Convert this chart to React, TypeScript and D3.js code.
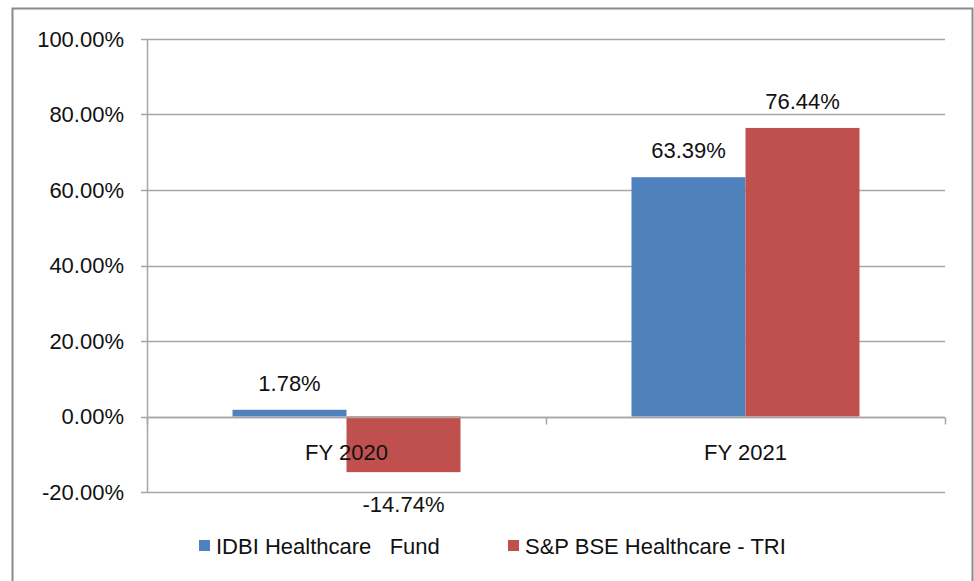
import { useEffect, useRef } from 'react'
import * as d3 from 'd3'

const categories = ['FY 2020', 'FY 2021']
const seriesNames = ['IDBI Healthcare   Fund', 'S&P BSE Healthcare - TRI']
const fundValues = [1.78, 63.39]
const indexValues = [-14.74, 76.44]
const yTicks = [-20, 0, 20, 40, 60, 80, 100]
const colors = ['#4F81BD', '#C0504D']

const App = () => {
  const svgRef = useRef<SVGSVGElement>(null)
  const width = 974
  const height = 581
  const margin = { top: 39, right: 29, bottom: 90, left: 147 }
  const font = "'Liberation Sans', Arial, sans-serif"
  const fs = '22px'

  useEffect(() => {
    const svg = d3.select(svgRef.current)
    svg.selectAll('*').remove()

    svg.append('rect')
      .attr('x', 12.5)
      .attr('y', 8.5)
      .attr('width', 960)
      .attr('height', 590)
      .attr('fill', 'white')
      .attr('stroke', '#8a8a8a')
      .attr('stroke-width', 2)

    const x0 = d3.scaleBand()
      .domain(categories)
      .range([margin.left, width - margin.right])
      .paddingInner(0)
      .paddingOuter(0)

    const x1 = d3.scaleBand()
      .domain(seriesNames)
      .range([0, x0.bandwidth()])
      .paddingInner(0)
      .paddingOuter(0.75)

    const y = d3.scaleLinear()
      .domain([-20, 100])
      .range([height - margin.bottom + 1, margin.top])

    // gridlines
    svg.append('g')
      .selectAll('line')
      .data(yTicks)
      .join('line')
      .attr('x1', margin.left - 6)
      .attr('x2', width - margin.right)
      .attr('y1', d => Math.round(y(d)) + 0.5)
      .attr('y2', d => Math.round(y(d)) + 0.5)
      .attr('stroke', '#a6a6a6')
      .attr('stroke-width', 1.5)

    // y axis line
    svg.append('line')
      .attr('x1', margin.left + 0.5)
      .attr('x2', margin.left + 0.5)
      .attr('y1', y(100))
      .attr('y2', y(-20))
      .attr('stroke', '#a6a6a6')
      .attr('stroke-width', 1.5)

    svg.append('g')
      .selectAll('text')
      .data(yTicks)
      .join('text')
      .attr('x', 124)
      .attr('y', d => y(d))
      .attr('dy', '0.35em')
      .attr('text-anchor', 'end')
      .style('font-family', font)
      .style('font-size', fs)
      .style('fill', '#111')
      .text(d => d.toFixed(2) + '%')

    const data = categories.map((c, i) => ({ cat: c, vals: [fundValues[i], indexValues[i]] }))

    const groups = svg.append('g')
      .selectAll('g')
      .data(data)
      .join('g')
      .attr('transform', d => `translate(${x0(d.cat)},0)`)

    groups.selectAll('rect')
      .data(d => d.vals.map((v, j) => ({ name: seriesNames[j], v, j })))
      .join('rect')
      .attr('x', d => x1(d.name)!)
      .attr('width', x1.bandwidth())
      .attr('y', d => y(Math.max(0, d.v)))
      .attr('height', d => Math.abs(y(d.v) - y(0)))
      .attr('fill', d => colors[d.j])

    // zero axis with ticks
    const zy = Math.round(y(0)) + 0.5
    svg.append('line')
      .attr('x1', margin.left)
      .attr('x2', width - margin.right)
      .attr('y1', zy)
      .attr('y2', zy)
      .attr('stroke', '#a6a6a6')
      .attr('stroke-width', 1.5)
    const xTickPos = [margin.left, x0(categories[1])!, width - margin.right]
    svg.append('g')
      .selectAll('line')
      .data(xTickPos)
      .join('line')
      .attr('x1', d => d + 0.5)
      .attr('x2', d => d + 0.5)
      .attr('y1', zy)
      .attr('y2', zy + 7)
      .attr('stroke', '#a6a6a6')
      .attr('stroke-width', 1.5)

    // category labels
    svg.append('g')
      .selectAll('text')
      .data(categories)
      .join('text')
      .attr('x', d => x0(d)! + x0.bandwidth() / 2)
      .attr('y', zy + 42)
      .attr('text-anchor', 'middle')
      .style('font-family', font)
      .style('font-size', fs)
      .style('fill', '#111')
      .text(d => d)

    // value labels
    groups.selectAll('text')
      .data(d => d.vals.map((v, j) => ({ name: seriesNames[j], v, j })))
      .join('text')
      .attr('x', d => x1(d.name)! + x1.bandwidth() / 2)
      .attr('y', d => d.v >= 0 ? y(d.v) - 19 : y(d.v) + 40)
      .attr('text-anchor', 'middle')
      .style('font-family', font)
      .style('font-size', fs)
      .style('fill', '#111')
      .text(d => d.v.toFixed(2) + '%')

    // legend
    const legendX = [199, 508]
    const legend = svg.append('g')
    seriesNames.forEach((name, i) => {
      legend.append('rect')
        .attr('x', legendX[i])
        .attr('y', 540)
        .attr('width', 11)
        .attr('height', 11)
        .attr('fill', colors[i])
      legend.append('text')
        .attr('x', legendX[i] + 17)
        .attr('y', 546)
        .attr('dy', '0.35em')
        .style('font-family', font)
        .style('font-size', fs)
        .style('fill', '#111')
        .style('white-space', 'pre')
        .attr('xml:space', 'preserve')
        .text(name)
    })
  }, [])

  return (
    <svg ref={svgRef} width={width} height={height}
      style={{ position: 'absolute', left: 0, top: 0, background: 'white' }}></svg>
  )
}

export default App
